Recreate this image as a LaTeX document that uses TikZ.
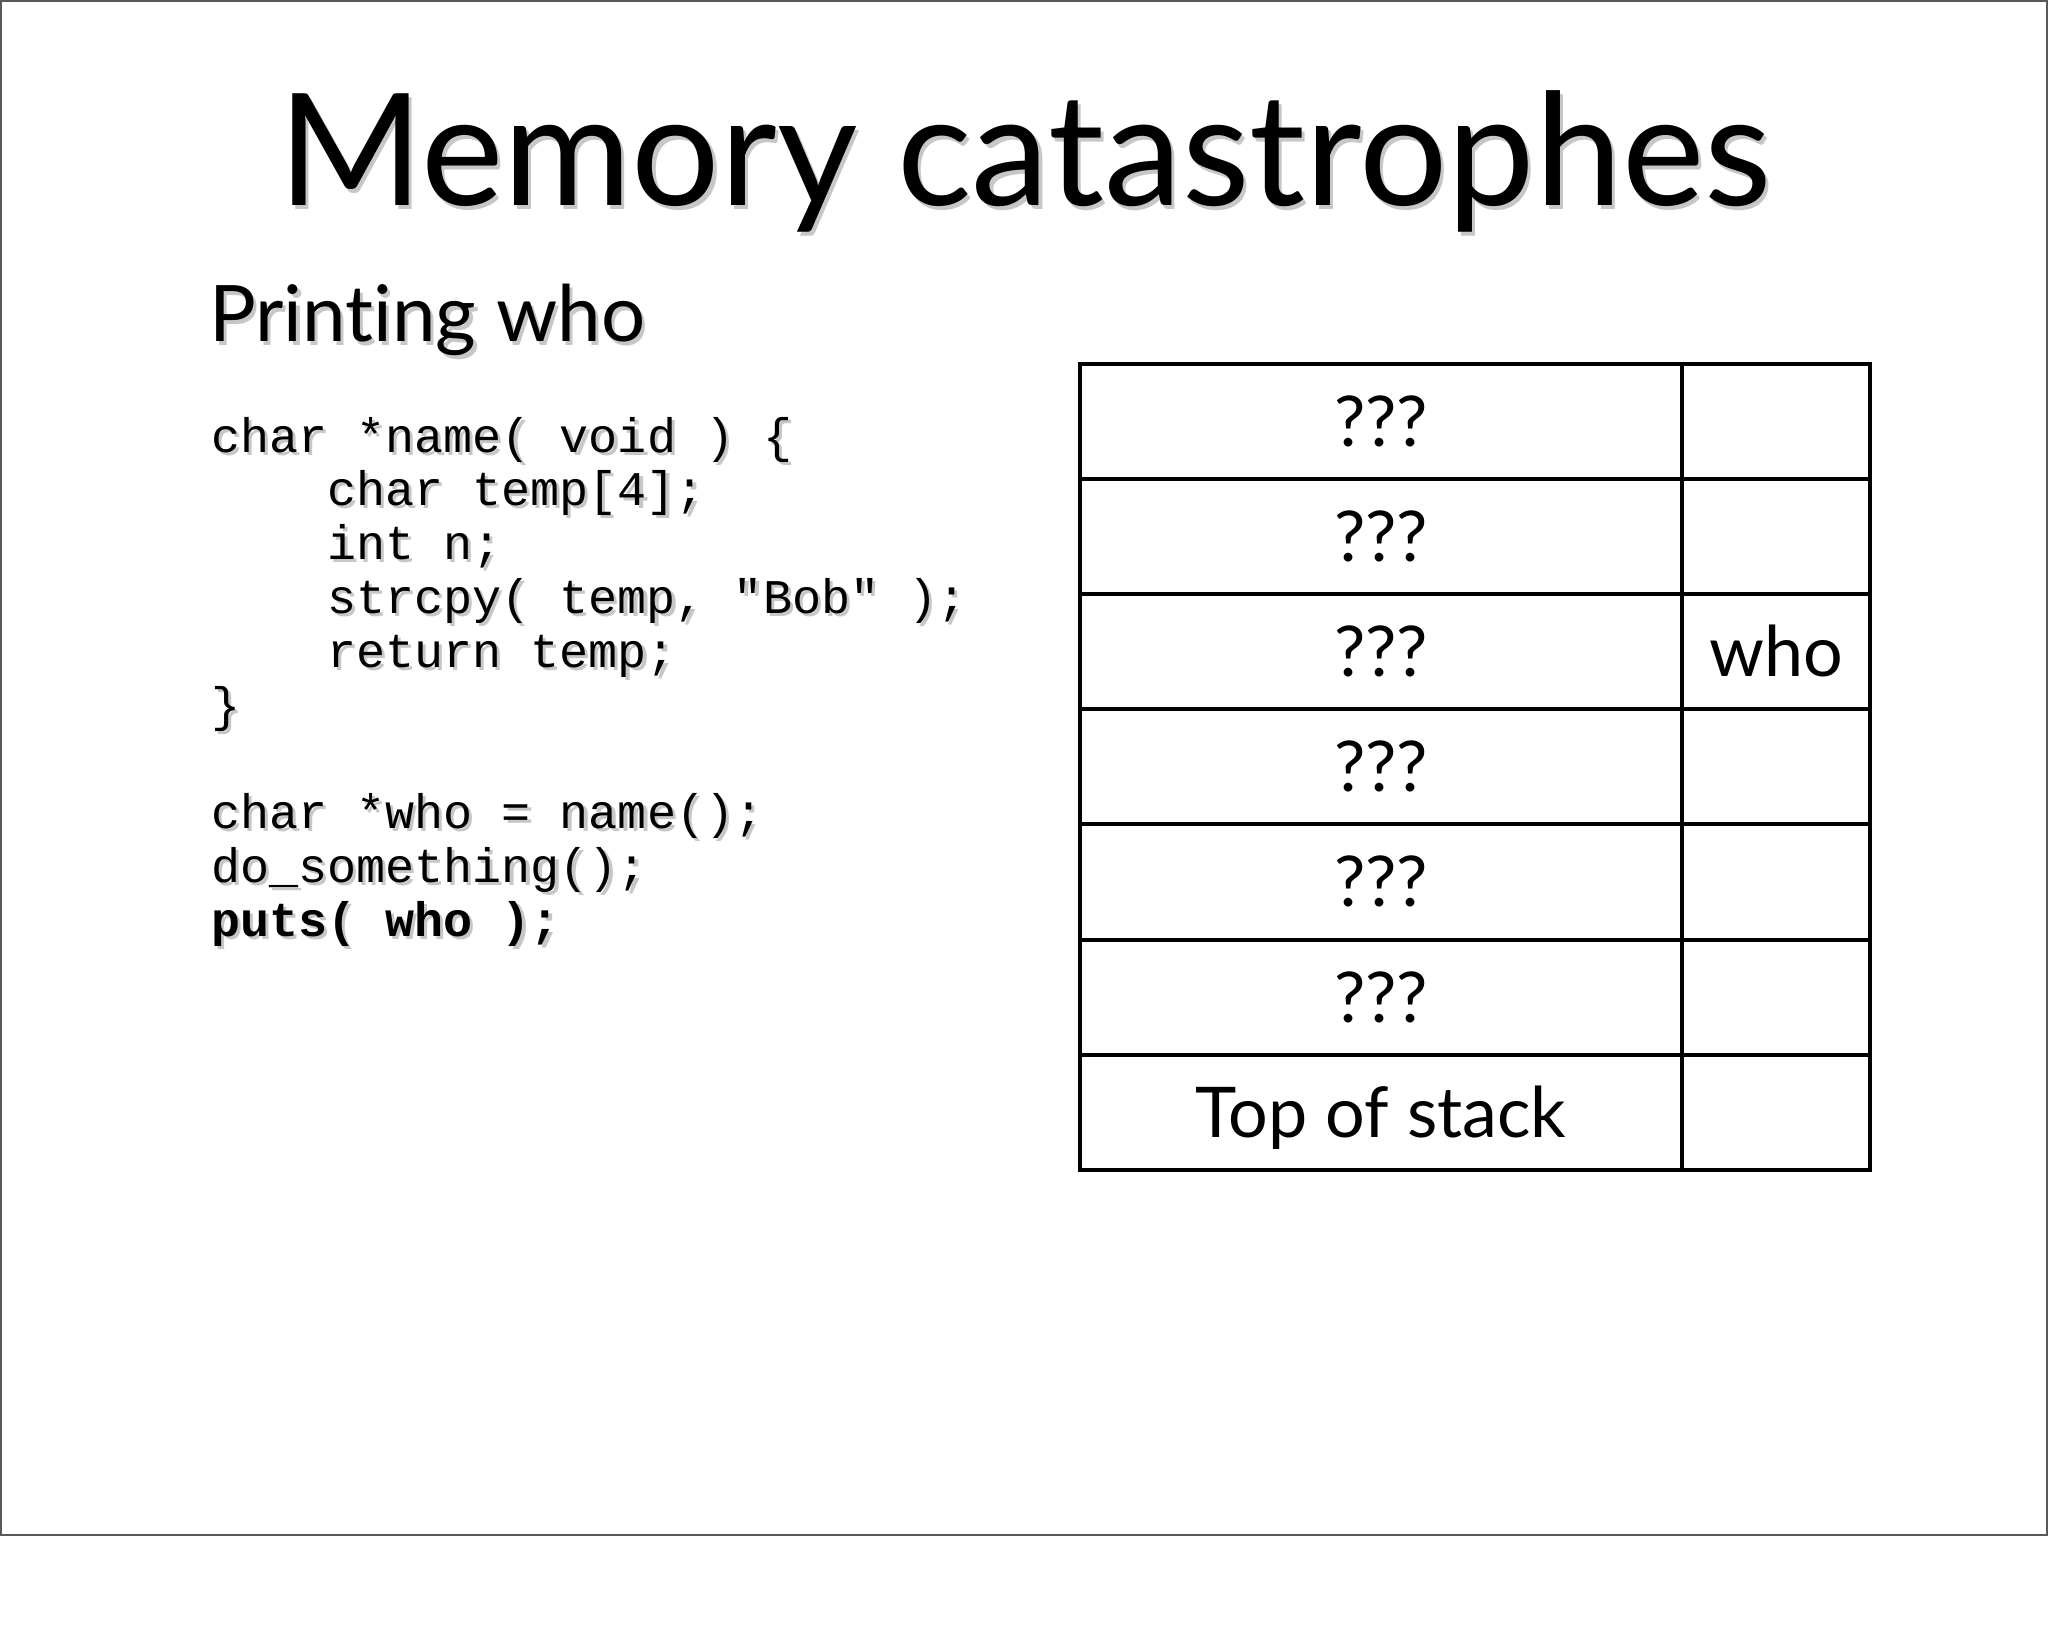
\documentclass[tikz,border=0pt]{standalone}
\usepackage{fontspec}
\setmainfont{Lato}[Ligatures={TeX,NoCommon}]
\setmonofont{Liberation Mono}
\usepackage{xcolor}
\usepackage{tikz}

% soft grey copy under the text, as on the slide
\newcommand{\withshadow}[1]{\leavevmode\rlap{\raisebox{-1.6pt}{\hspace*{1.6pt}\textcolor{black!22}{#1}}}#1}

\begin{document}
\begin{tikzpicture}[x=0.5pt, y=-0.5pt,
    slidetitle/.style={font=\fontsize{78}{88}\selectfont, anchor=base, inner sep=0pt},
    subhead/.style={font=\fontsize{39}{46}\selectfont, anchor=base west, inner sep=0pt},
    codeline/.style={font=\ttfamily\fontsize{24.2}{27}\selectfont, anchor=base west, inner sep=0pt},
    cell/.style={font=\fontsize{35}{40}\selectfont, anchor=base, inner sep=0pt},
    grid/.style={line width=2pt, black}]
    \def\codeX{211}
    \def\indX{327}
    \def\lineH{53.8}
    \def\tabL{1080}
    \def\tabM{1682}
    \def\tabR{1870}
    \def\tabT{364}
    \def\rowH{115.1}

    \useasboundingbox (0,0) rectangle (2048,1636);

    % slide frame
    \draw[black!65, line width=1pt] (1,1) rectangle (2047,1535);

    % headings
    \node[slidetitle] (title) at (1025,206) {\withshadow{Memory catastrophes}};
    \node[subhead] (sub) at (209,342) {\withshadow{Printing who}};

    % code
    \node[codeline] (c1) at (\codeX,452) {\withshadow{char *name( void ) \{}};
    \node[codeline] (c2) at (\indX,452+\lineH) {\withshadow{char temp[4];}};
    \node[codeline] (c3) at (\indX,452+2*\lineH) {\withshadow{int n;}};
    \node[codeline] (c4) at (\indX,452+3*\lineH) {\withshadow{strcpy( temp, "Bob" );}};
    \node[codeline] (c5) at (\indX,452+4*\lineH) {\withshadow{return temp;}};
    \node[codeline] (c6) at (\codeX,452+5*\lineH) {\withshadow{\}}};
    \node[codeline] (c7) at (\codeX,452+7*\lineH) {\withshadow{char *who = name();}};
    \node[codeline] (c8) at (\codeX,452+8*\lineH) {\withshadow{do\_something();}};
    \node[codeline] (c9) at (\codeX,452+9*\lineH) {\withshadow{\textbf{puts( who );}}};

    % stack table
    \draw[grid] (\tabL,\tabT) rectangle (\tabR,\tabT+7*\rowH);
    \draw[grid] (\tabM,\tabT) -- (\tabM,\tabT+7*\rowH);
    \foreach \i in {1,...,6}
        \draw[grid] (\tabL,\tabT+\i*\rowH) -- (\tabR,\tabT+\i*\rowH);

    \foreach \i in {1,...,6}
        \node[cell] (q\i) at ({(\tabL+\tabM)/2},\tabT+\i*\rowH-\rowH/2+25) {???};
    \node[cell] (tos) at ({(\tabL+\tabM)/2},\tabT+6.5*\rowH+25) {Top of stack};
    \node[cell] (who) at ({(\tabM+\tabR)/2},\tabT+2.5*\rowH+25) {who};
\end{tikzpicture}
\end{document}
